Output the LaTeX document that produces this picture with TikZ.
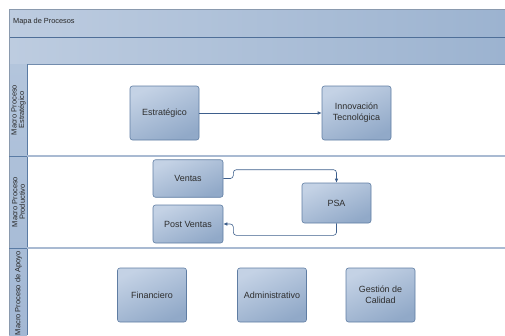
\documentclass[tikz,border=0pt]{standalone}
\usepackage{fontspec}
\setmainfont{Liberation Sans}
\usetikzlibrary{arrows.meta}

\definecolor{barLeft}{HTML}{BDCCE0}
\definecolor{barRight}{HTML}{9CB3D0}
\definecolor{barLine}{HTML}{4F6F98}
\definecolor{edgeGray}{HTML}{8A9AAE}
\definecolor{laneTop}{HTML}{B3C5DC}
\definecolor{laneBot}{HTML}{A3B8D4}
\definecolor{laneLine}{HTML}{5A7BA4}
\definecolor{divLine}{HTML}{A9BAD2}
\definecolor{boxTop}{HTML}{C4D2E5}
\definecolor{boxBot}{HTML}{91A9C8}
\definecolor{boxEdge}{HTML}{5F7DA3}
\definecolor{boxText}{HTML}{2E2E2E}
\definecolor{connColor}{HTML}{3E5F8C}

\tikzset{
  procbox/.style={draw=boxEdge, line width=0.6bp, rounded corners=2.5bp,
    top color=boxTop, bottom color=boxBot, shading angle=25,
    minimum width=69bp, minimum height=54bp, align=center, inner sep=1bp,
    text=boxText, font=\fontsize{9}{11}\selectfont},
  smallbox/.style={procbox, minimum width=70bp, minimum height=37.5bp},
  conn/.style={draw=connColor, line width=0.6bp, rounded corners=3bp,
    -{Latex[length=4bp,width=3.5bp]}},
  lanelabel/.style={rotate=90, align=center, inner sep=0pt,
    font=\fontsize{7.5}{7.5}\selectfont, text=black!85},
}

\begin{document}
\begin{tikzpicture}[x=1bp, y=-1bp]
\useasboundingbox (0,0) rectangle (505,335);
\clip (0,0) rectangle (505,335);

% header bars
\fill[left color=barLeft, right color=barRight] (9,9) rectangle (505,37);
\fill[left color=barLeft, right color=barRight] (9,37) rectangle (505,64);
\draw[edgeGray, line width=0.8bp] (9,9) -- (505,9);
\draw[barLine, line width=0.9bp] (9,37) -- (505,37);
\draw[barLine!80, line width=0.9bp] (9,64) -- (505,64);
\node[anchor=west, inner sep=0pt, font=\fontsize{7.4}{8}\selectfont, text=black!85]
  (title) at (13,22) {Mapa de Procesos};

% lane header column
\fill[top color=laneTop, bottom color=laneBot] (9,64) rectangle (27,335);
\draw[edgeGray, line width=0.8bp] (9,9) -- (9,335);
\draw[laneLine, line width=0.9bp] (27,64) -- (27,335);

% lane separators
\draw[divLine, line width=1.6bp] (27,156) -- (505,156);
\draw[divLine, line width=1.6bp] (27,248) -- (505,248);
\draw[laneLine, line width=0.8bp] (9,156) -- (27,156);
\draw[laneLine, line width=0.8bp] (9,248) -- (27,248);

% lane titles
\node[lanelabel] (lane1) at (18.5,110) {Macro Proceso\\Estratégico};
\node[lanelabel] (lane2) at (18.5,202) {Macro Proceso\\Productivo};
\node[lanelabel, anchor=east] (lane3) at (18.5,251) {Macro Proceso de Apoyo};

% strategic processes
\node[procbox] (estr) at (164.5,113) {Estratégico};
\node[procbox] (innov) at (356.5,113) {Innovación\\Tecnológica};

% productive processes
\node[smallbox] (ventas) at (188,178.5) {Ventas};
\node[smallbox, minimum height=38bp] (post) at (188,224) {Post Ventas};
\node[procbox, minimum height=40bp] (psa) at (336.5,203) {PSA};

% support processes
\node[procbox] (fin) at (152,295) {Financiero};
\node[procbox] (adm) at (272,295) {Administrativo};
\node[procbox] (cal) at (380.5,295) {Gestión de\\Calidad};

% flows
\draw[conn, rounded corners=0] (estr.east) -- (innov.west);
\draw[conn] (ventas.east) -- ++(10,0) |- ([yshift=13bp]psa.north) -- (psa.north);
\draw[conn] (psa.south) -- ++(0,12) -| ([xshift=10bp]post.east) -- (post.east);
\end{tikzpicture}
\end{document}
